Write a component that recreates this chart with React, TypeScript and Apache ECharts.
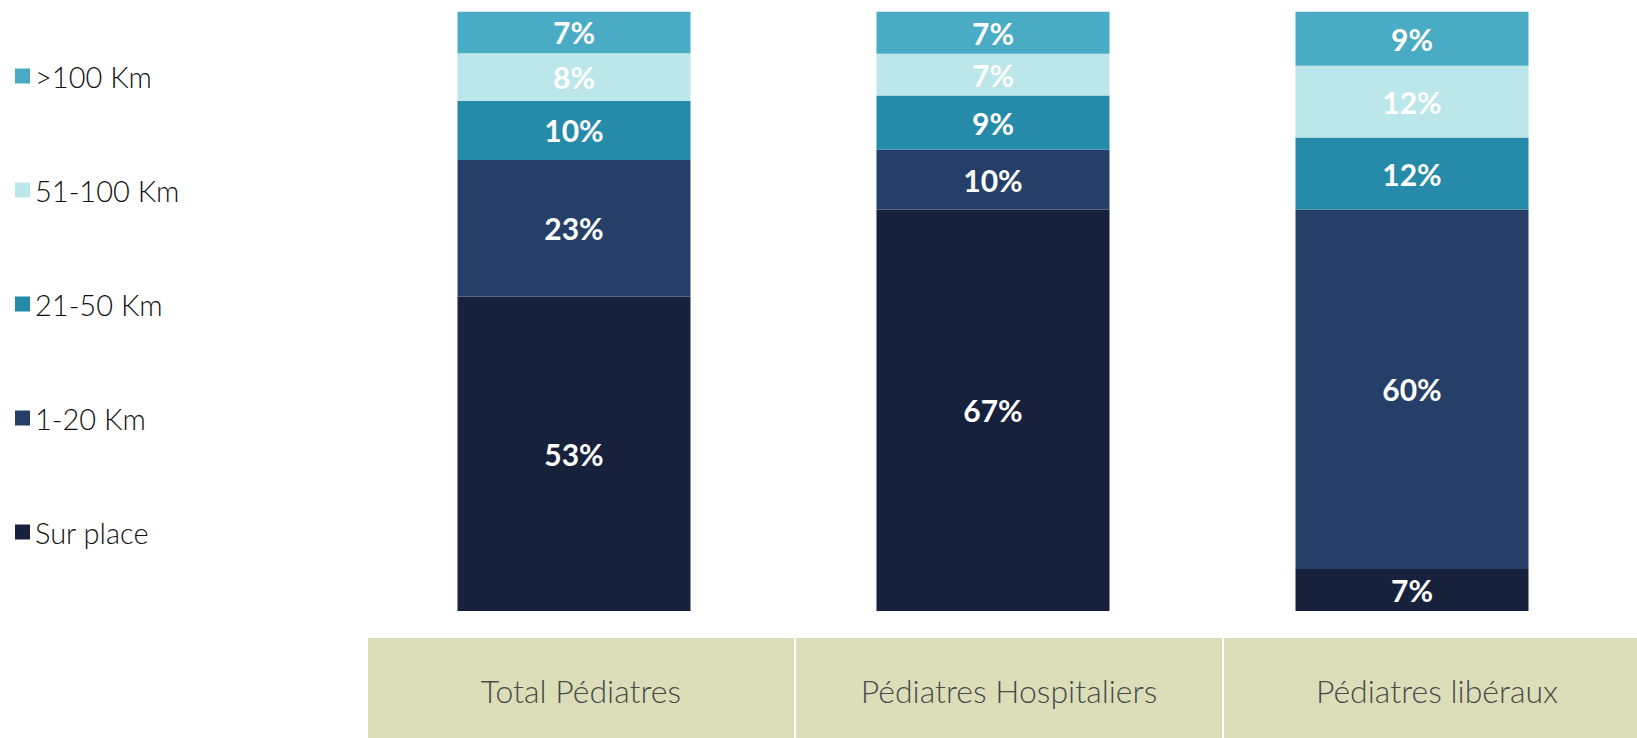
import React, { useEffect, useRef } from "react";
import * as echarts from "echarts";

const categories = ["Total Pédiatres", "Pédiatres Hospitaliers", "Pédiatres libéraux"];
const seriesNames = ["Sur place", "1-20 Km", "21-50 Km", "51-100 Km", ">100 Km"];
const surPlace = [53, 67, 7];
const km1to20 = [23, 10, 60];
const km21to50 = [10, 9, 12];
const km51to100 = [8, 7, 12];
const kmOver100 = [7, 7, 9];
const seriesColors = ["#17213B", "#263F69", "#268BA8", "#BBE6EA", "#4AABC5"];

export default function App() {
  const ref = useRef<HTMLDivElement>(null);
  useEffect(() => {
    document.body.style.margin = "0";
    if (!ref.current) return;
    const chart = echarts.init(ref.current, undefined, { renderer: "svg" });
    const raw = [surPlace, km1to20, km21to50, km51to100, kmOver100];
    const totals = categories.map((_, i) => raw.reduce((s, arr) => s + arr[i], 0));
    const series = raw.map((arr, si) => ({
      name: seriesNames[si],
      type: "bar",
      stack: "total",
      barWidth: 233,
      data: arr.map((v, i) => (v / totals[i]) * 100),
      itemStyle: { color: seriesColors[si] },
      label: {
        show: true,
        position: "inside",
        color: "#ffffff",
        fontFamily: "Lato",
        fontWeight: "bold",
        fontSize: 30,
        formatter: (p: any) => raw[si][p.dataIndex] + "%",
      },
    }));
    const boxX0 = 368;
    const boxStep = 428;
    const boxW = 426;
    const graphic: any[] = [];
    categories.forEach((c, i) => {
      graphic.push({
        type: "rect",
        shape: { x: boxX0 + i * boxStep, y: 638, width: boxW, height: 100 },
        style: { fill: "#DCDEBA" },
        silent: true,
      });
      graphic.push({
        type: "text",
        x: boxX0 + i * boxStep + boxW / 2,
        y: 690,
        style: {
          text: c,
          fill: "#4a4a4a",
          font: "300 32px Lato",
          textAlign: "center",
          textVerticalAlign: "middle",
        },
        silent: true,
      });
    });
    chart.setOption({
      animation: false,
      grid: { left: 364.5, right: 15.5, top: 11.7, bottom: 127 },
      xAxis: {
        type: "category",
        data: categories,
        show: false,
      },
      yAxis: { type: "value", min: 0, max: 100, show: false },
      legend: {
        orient: "vertical",
        left: 10,
        top: 56,
        icon: "rect",
        itemWidth: 15,
        itemHeight: 15,
        itemGap: 84,
        data: [...seriesNames].reverse(),
        textStyle: { fontFamily: "Lato", fontWeight: 300, fontSize: 29, lineHeight: 30, color: "#111111" },
        selectedMode: false,
      },
      series,
      graphic,
    });
    return () => chart.dispose();
  }, []);
  return <div ref={ref} style={{ width: 1637, height: 738 }} />;
}
